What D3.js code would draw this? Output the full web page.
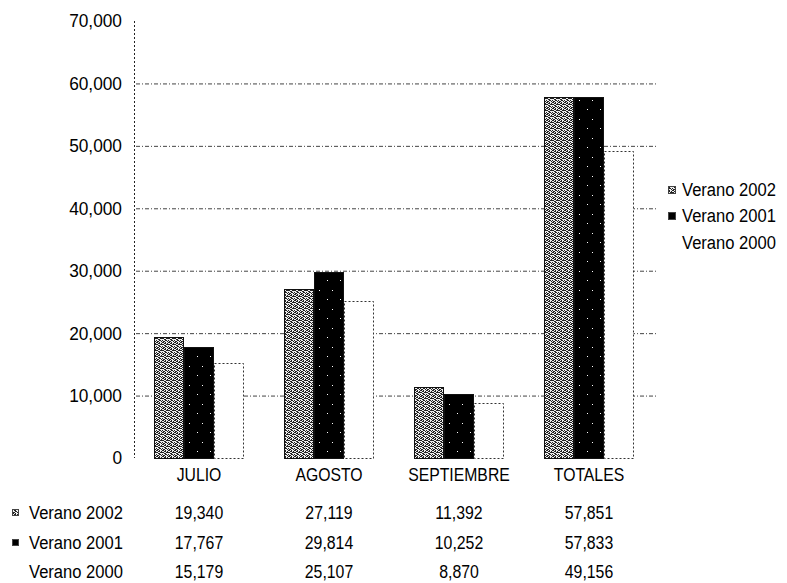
<!DOCTYPE html>
<html>
<head>
<meta charset="utf-8">
<script src="https://cdn.jsdelivr.net/npm/d3@7"></script>
<style>
  body { margin: 0; background: #fff; }
  svg { display: block; font-family: "Liberation Sans", Arial, sans-serif; }
  text { fill: #000; }
</style>
</head>
<body>
<svg width="787" height="583"></svg>
<script>
(function() {
    'use strict';

    // chart data
    var categories = ["JULIO", "AGOSTO", "SEPTIEMBRE", "TOTALES"];
    var series = ["Verano 2002", "Verano 2001", "Verano 2000"];
    var verano2002 = [19340, 27119, 11392, 57851];
    var verano2001 = [17767, 29814, 10252, 57833];
    var verano2000 = [15179, 25107, 8870, 49156];
    var yTicks = [0, 10000, 20000, 30000, 40000, 50000, 60000, 70000];

    var values = [verano2002, verano2001, verano2000];

    var svg = d3.select("svg");
    var fmt = d3.format(",");

    // squeeze text a little, the scanned font is narrower than Arial
    function squeeze(k) {
        return function(sel) {
            sel.each(function() {
                var len = this.getComputedTextLength();
                d3.select(this)
                    .attr("textLength", len * k)
                    .attr("lengthAdjust", "spacingAndGlyphs");
            });
        };
    }

    // plot area
    var left = 134, right = 654, top = 21, bottom = 458;

    var x = d3.scaleBand()
        .domain(categories)
        .range([left, right])
        .paddingInner(0.3077)
        .paddingOuter(0.3077 / 2);

    var xs = d3.scaleBand()
        .domain(series)
        .range([0, x.bandwidth()]);

    var y = d3.scaleLinear()
        .domain([0, 70000])
        .range([bottom, top]);

    // fill patterns (scanned look)
    var defs = svg.append("defs");

    var grey = defs.append("pattern")
        .attr("id", "grey")
        .attr("patternUnits", "userSpaceOnUse")
        .attr("width", 6).attr("height", 6);
    grey.append("rect").attr("width", 6).attr("height", 6).attr("fill", "#eee");
    [[0,0],[1,0],[3,0],[2,1],[3,1],[5,1],[0,2],[1,2],[4,2],[5,2],[2,3],[3,3],[0,4],[3,4],[4,4],[1,5],[2,5],[5,5]]
        .forEach(function(p) {
            grey.append("rect").attr("x", p[0]).attr("y", p[1])
                .attr("width", 1).attr("height", 1).attr("fill", "#222");
        });

    var dark = defs.append("pattern")
        .attr("id", "dark")
        .attr("patternUnits", "userSpaceOnUse")
        .attr("width", 13).attr("height", 19);
    dark.append("rect").attr("width", 13).attr("height", 19).attr("fill", "#000");
    dark.append("rect").attr("x", 7).attr("y", 5).attr("width", 1).attr("height", 1).attr("fill", "#fff");
    dark.append("rect").attr("x", 2).attr("y", 14).attr("width", 1).attr("height", 1).attr("fill", "#fff");

    var fills = ["url(#grey)", "url(#dark)", "#fff"];

    // gridlines
    svg.append("g")
        .selectAll("line")
        .data(yTicks.filter(function(d) { return d > 0 && d < 70000; }))
        .enter().append("line")
        .attr("x1", left + 2)
        .attr("x2", right + 3)
        .attr("y1", function(d) { return y(d) + 0.5; })
        .attr("y2", function(d) { return y(d) + 0.5; })
        .attr("stroke", "#444")
        .attr("stroke-width", 1)
        .attr("stroke-dasharray", "4,2,1,2");

    // y axis
    svg.append("line")
        .attr("x1", left + 0.5).attr("x2", left + 0.5)
        .attr("y1", y(70000)).attr("y2", y(0))
        .attr("stroke", "#222")
        .attr("stroke-dasharray", "2,2");

    svg.append("g")
        .selectAll("text")
        .data(yTicks)
        .enter().append("text")
        .attr("x", 122)
        .attr("y", function(d) { return y(d); })
        .attr("dy", "0.36em")
        .attr("text-anchor", "end")
        .attr("font-size", 18)
        .text(function(d) { return fmt(d); })
        .call(squeeze(0.96));

    // bars
    var groups = svg.append("g")
        .selectAll("g")
        .data(series)
        .enter().append("g");

    groups.selectAll("rect")
        .data(function(s, i) {
            return categories.map(function(c, j) {
                return { serie: s, idx: i, cat: c, value: values[i][j] };
            });
        })
        .enter().append("rect")
        .attr("x", function(d) { return Math.round(x(d.cat) + xs(d.serie)) + 0.5; })
        .attr("y", function(d) { return Math.round(y(d.value)) + 0.5; })
        .attr("width", Math.round(xs.bandwidth()) - 1)
        .attr("height", function(d) { return Math.round(y(0) - y(d.value)); })
        .attr("fill", function(d) { return fills[d.idx]; })
        .attr("stroke", function(d) { return d.idx === 2 ? "#333" : "#111"; })
        .attr("stroke-width", 1)
        .attr("stroke-dasharray", function(d) { return d.idx === 2 ? "2,2" : null; });

    // category labels
    svg.append("g")
        .selectAll("text")
        .data(categories)
        .enter().append("text")
        .attr("x", function(d) { return x(d) + x.bandwidth() / 2; })
        .attr("y", 475)
        .attr("dy", "0.36em")
        .attr("text-anchor", "middle")
        .attr("font-size", 17.5)
        .text(function(d) { return d; })
        .call(squeeze(0.9));

    // data table
    var rowY = [513, 543, 572];
    var rows = svg.append("g")
        .selectAll("g")
        .data(series)
        .enter().append("g")
        .attr("transform", function(d, i) { return "translate(0," + rowY[i] + ")"; });

    rows.append("rect")
        .attr("x", 12.5).attr("y", -3.5)
        .attr("width", 6).attr("height", 6)
        .attr("fill", function(d, i) { return fills[i]; })
        .attr("stroke", function(d, i) { return i === 2 ? "none" : "#444"; });

    rows.append("text")
        .attr("x", 29)
        .attr("dy", "0.36em")
        .attr("font-size", 18)
        .text(function(d) { return d; })
        .call(squeeze(0.92));

    rows.selectAll("text.val")
        .data(function(d, i) { return values[i]; })
        .enter().append("text")
        .attr("class", "val")
        .attr("x", function(d, j) { return x(categories[j]) + x.bandwidth() / 2; })
        .attr("dy", "0.36em")
        .attr("text-anchor", "middle")
        .attr("font-size", 18)
        .text(function(d) { return fmt(d); })
        .call(squeeze(0.88));

    // legend
    var legendY = [190, 216, 243];
    var legend = svg.append("g")
        .selectAll("g")
        .data(series)
        .enter().append("g")
        .attr("transform", function(d, i) { return "translate(0," + legendY[i] + ")"; });

    legend.append("rect")
        .attr("x", 668.5).attr("y", -3.5)
        .attr("width", 7).attr("height", 7)
        .attr("fill", function(d, i) { return fills[i]; })
        .attr("stroke", function(d, i) { return i === 2 ? "none" : "#444"; });

    legend.append("text")
        .attr("x", 682)
        .attr("dy", "0.36em")
        .attr("font-size", 18)
        .text(function(d) { return d; })
        .call(squeeze(0.92));
})();
</script>
</body>
</html>
